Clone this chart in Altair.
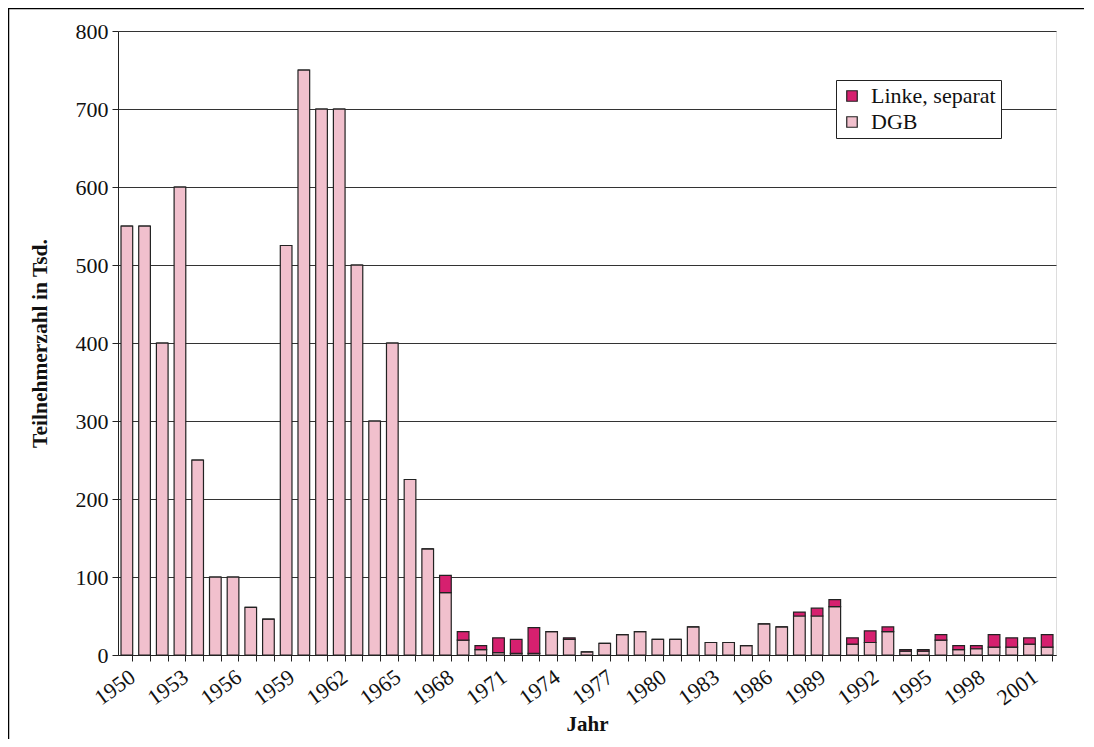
import altair as alt
import pandas as pd

years = list(range(1950, 2003))
dgb = [550, 550, 400, 600, 250, 100, 100, 61, 46, 525,
       750, 700, 700, 500, 300, 400, 225, 136, 80, 19,
       7, 3, 2, 2, 30, 20, 4, 15, 26, 30,
       20, 20, 36, 16, 16, 12, 40, 36, 50, 50,
       62, 14, 16, 30, 5, 5, 19, 7, 8, 10,
       10, 14, 10]
linke = [0, 0, 0, 0, 0, 0, 0, 0, 0, 0,
         0, 0, 0, 0, 0, 0, 0, 0, 22, 11,
         5, 19, 18, 33, 0, 2, 0, 0, 0, 0,
         0, 0, 0, 0, 0, 0, 0, 0, 5, 10,
         9, 8, 15, 6, 2, 2, 7, 5, 4, 16,
         12, 8, 16]
series = ["Linke, separat", "DGB"]
colors = ["#D6206F", "#F1C0CD"]

rows = []
for y, d, l in zip(years, dgb, linke):
    rows.append({"Jahr": y, "Serie": "DGB", "Wert": d, "ord": 0})
    rows.append({"Jahr": y, "Serie": "Linke, separat", "Wert": l, "ord": 1})
df = pd.DataFrame(rows)

font = "Liberation Serif"

bars = alt.Chart(df).mark_bar(stroke="#222222", strokeWidth=1.2).encode(
    x=alt.X("Jahr:O",
            scale=alt.Scale(paddingInner=0.34, paddingOuter=0.17),
            axis=alt.Axis(title="Jahr", bandPosition=1, labelAngle=-36,
                          labelAlign="right", labelBaseline="top",
                          labelPadding=5,
                          labelExpr="(datum.value - 1950) % 3 == 0 ? datum.label : ''",
                          tickSize=6, tickColor="#222222", domainColor="#222222",
                          labelFontSize=22, labelFont=font, labelColor="#111111",
                          titleFontSize=21, titleFont=font, titleFontWeight="bold",
                          titleColor="#111111", titleY=69, titleBaseline="middle",
                          grid=False)),
    y=alt.Y("Wert:Q", stack="zero",
            scale=alt.Scale(domain=[0, 800], nice=False),
            axis=alt.Axis(title="Teilnehmerzahl in Tsd.", values=list(range(0, 801, 100)),
                          tickSize=6, tickColor="#222222", domainColor="#222222",
                          labelFontSize=22, labelFont=font, labelColor="#111111",
                          labelPadding=4,
                          titleFontSize=21.5, titleFont=font, titleFontWeight="bold",
                          titleColor="#111111", titleX=-78, titleY=312,
                          titleAngle=-90, titleBaseline="middle", titleAlign="center",
                          grid=True, gridColor="#333333", gridWidth=1)),
    color=alt.Color("Serie:N",
                    scale=alt.Scale(domain=series, range=colors),
                    legend=alt.Legend(title=None, orient="none", legendX=718, legendY=49,
                                      symbolType="square", symbolSize=110,
                                      symbolStrokeColor="#222222", symbolStrokeWidth=1.2,
                                      labelFont=font, labelFontSize=22, labelColor="#111111",
                                      strokeColor="#222222", fillColor="white",
                                      padding=5, rowPadding=4, labelOffset=8)),
    order=alt.Order("ord:Q"),
)

frame_df = pd.DataFrame({"k": [0]})
frame_top = alt.Chart(frame_df).mark_rule(stroke="black", strokeWidth=2.5).encode(
    x=alt.value(-110), x2=alt.value(1000), y=alt.value(-23)
)
frame_left = alt.Chart(frame_df).mark_rule(stroke="black", strokeWidth=2.5).encode(
    x=alt.value(-110), y=alt.value(-23), y2=alt.value(800)
)

chart = alt.layer(bars, frame_top, frame_left).properties(
    width=938, height=624,
    autosize=alt.AutoSizeParams(type="none"),
    padding={"left": 110, "top": 23, "right": 28, "bottom": 84},
).configure_view(stroke="#222222", strokeWidth=1).configure(background="white")

chart.save("out.html", embed_options={"renderer": "svg", "actions": False})
